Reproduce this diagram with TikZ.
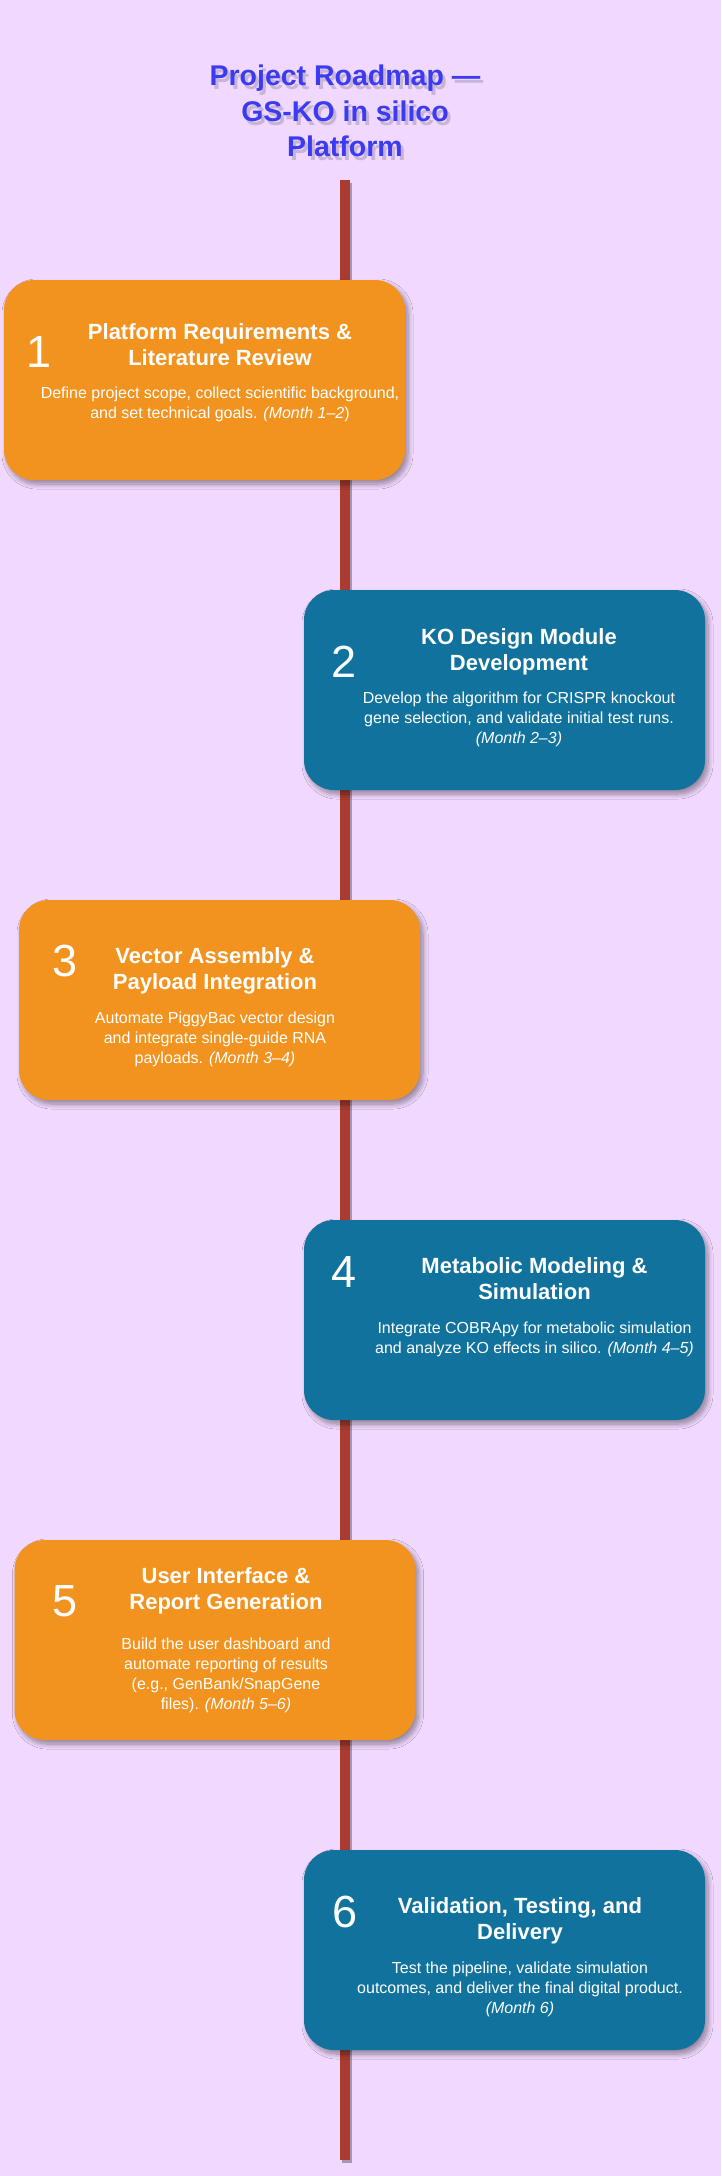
\documentclass[tikz,border=0pt]{standalone}
\usepackage{fontspec}
\setmainfont{Liberation Sans}
\usetikzlibrary{shadows.blur}

\definecolor{bgpurple}{HTML}{F0D8FE}
\definecolor{phaseorange}{HTML}{F2931F}
\definecolor{phaseblue}{HTML}{11739D}
\definecolor{spine}{HTML}{A93B2F}
\definecolor{titleblue}{HTML}{3B3BF2}
\definecolor{shade}{HTML}{6E6280}

\tikzset{
	phase/.style={minimum width=401pt, minimum height=200pt, rounded corners=30pt, inner sep=0pt,
		blur shadow={shadow xshift=3pt, shadow yshift=-4pt, shadow blur radius=5pt, shadow opacity=40, shadow blur steps=10}},
	orangephase/.style={phase, fill=phaseorange},
	bluephase/.style={phase, fill=phaseblue},
	phasenum/.style={text=white, inner sep=0pt, font=\fontsize{45}{45}\selectfont},
	phasetitle/.style={text=white, inner sep=0pt, align=center, font=\fontsize{22}{26}\selectfont\bfseries},
	phasetext/.style={text=white, inner sep=0pt, align=center, font=\fontsize{16}{20}\selectfont},
	roadtitle/.style={inner sep=0pt, align=center, font=\fontsize{28.5}{35.5}\selectfont\bfseries}
}

\begin{document}
\begin{tikzpicture}[x=1pt, y=-1pt]
		\fill[bgpurple] (0,0) rectangle (721,2176);
		\useasboundingbox (0,0) rectangle (721,2176);

		% title with its shadow
		\node[roadtitle, text=shade, opacity=0.3, anchor=north] (titleshadow) at (348,69) {Project Roadmap ---\\GS-KO in silico\\Platform};
		\node[roadtitle, text=titleblue, anchor=north] (title) at (345,65) {Project Roadmap ---\\GS-KO in silico\\Platform};

		% time line
		\coordinate (spinetop) at (344.5,180);
		\coordinate (spinebot) at (344.5,2160);
		\draw[shade, opacity=0.3, line width=10pt] ([shift={(2.5pt,-2.5pt)}]spinetop) -- ([shift={(2.5pt,-2.5pt)}]spinebot);
		\draw[spine, line width=10pt] (spinetop) -- (spinebot);

		% phases
		\node[orangephase] (box1) at (204.5,380) {};
		\node[phasenum, anchor=base] (n1) at (39,367) {1};
		\node[phasetitle, anchor=north] (t1) at (220,323) {Platform Requirements \&\\Literature Review};
		\node[phasetext, anchor=north] (d1) at (220,387) {Define project scope, collect scientific background,\\and set technical goals. \textit{(Month 1--2})};

		\node[bluephase] (box2) at (504.5,690) {};
		\node[phasenum, anchor=base] (n2) at (344.5,677) {2};
		\node[phasetitle, anchor=north] (t2) at (519,628) {KO Design Module\\Development};
		\node[phasetext, anchor=north] (d2) at (519,692) {Develop the algorithm for CRISPR knockout\\gene selection, and validate initial test runs.\\\textit{(Month 2--3)}};

		\node[orangephase] (box3) at (219.5,1000) {};
		\node[phasenum, anchor=base] (n3) at (65,976) {3};
		\node[phasetitle, anchor=north] (t3) at (215,947) {Vector Assembly \&\\Payload Integration};
		\node[phasetext, anchor=north] (d3) at (215,1012) {Automate PiggyBac vector design\\and integrate single-guide RNA\\payloads. \textit{(Month 3--4)}};

		\node[bluephase] (box4) at (504.5,1320) {};
		\node[phasenum, anchor=base] (n4) at (344,1287) {4};
		\node[phasetitle, anchor=north] (t4) at (534.5,1257) {Metabolic Modeling \&\\Simulation};
		\node[phasetext, anchor=north] (d4) at (534.5,1322) {Integrate COBRApy for metabolic simulation\\and analyze KO effects in silico. \textit{(Month 4--5)}};

		\node[orangephase] (box5) at (215,1640) {};
		\node[phasenum, anchor=base] (n5) at (65,1616) {5};
		\node[phasetitle, anchor=north] (t5) at (226,1567) {User Interface \&\\Report Generation};
		\node[phasetext, anchor=north] (d5) at (226,1638) {Build the user dashboard and\\automate reporting of results\\(e.g., GenBank/SnapGene\\files). \textit{(Month 5--6)}};

		\node[bluephase] (box6) at (504.5,1950) {};
		\node[phasenum, anchor=base] (n6) at (345,1927) {6};
		\node[phasetitle, anchor=north] (t6) at (520,1897) {Validation, Testing, and\\Delivery};
		\node[phasetext, anchor=north] (d6) at (520,1962) {Test the pipeline, validate simulation\\outcomes, and deliver the final digital product.\\\textit{(Month 6)}};
	\end{tikzpicture}
\end{document}
